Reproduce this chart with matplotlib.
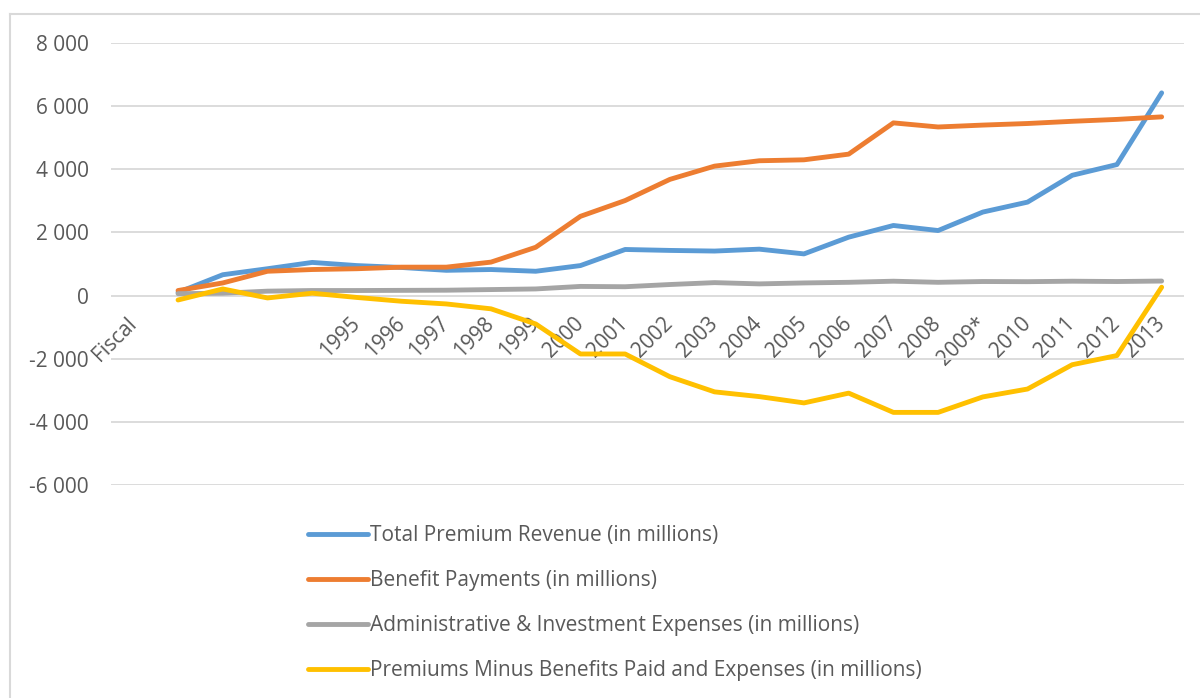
import numpy as np
import matplotlib
matplotlib.use("Agg")
import matplotlib.pyplot as plt
from matplotlib.ticker import FuncFormatter
from matplotlib.lines import Line2D

plt.rcParams['font.family'] = ['Open Sans', 'DejaVu Sans']

# categories (first one is the header cell, next four have no label)
categories = ['Fiscal', '', '', '', '', '1995', '1996', '1997', '1998', '1999', '2000',
              '2001', '2002', '2003', '2004', '2005', '2006', '2007', '2008', '2009*',
              '2010', '2011', '2012', '2013']

nan = np.nan
premium_revenue = [nan, 100, 660, 850, 1050, 950, 890, 800, 825, 770, 950, 1460, 1430,
                   1410, 1470, 1320, 1850, 2220, 2060, 2645, 2960, 3810, 4150, 6420]
benefit_payments = [nan, 160, 400, 770, 825, 850, 900, 900, 1060, 1530, 2510, 3010, 3680,
                    4100, 4270, 4300, 4480, 5470, 5340, 5400, 5450, 5520, 5580, 5660]
admin_expenses = [nan, 60, 75, 140, 160, 160, 165, 170, 190, 210, 290, 280, 350,
                  410, 370, 400, 420, 455, 420, 445, 440, 455, 445, 460]
premiums_minus = [nan, -140, 210, -75, 75, -60, -180, -265, -420, -900, -1850, -1850, -2570,
                  -3050, -3200, -3400, -3090, -3700, -3700, -3210, -2960, -2190, -1900, 265]

series = [
    ('Total Premium Revenue (in millions)', premium_revenue, '#5B9BD5'),
    ('Benefit Payments (in millions)', benefit_payments, '#ED7D31'),
    ('Administrative & Investment Expenses (in millions)', admin_expenses, '#A5A5A5'),
    ('Premiums Minus Benefits Paid and Expenses (in millions)', premiums_minus, '#FFC000'),
]

fig = plt.figure(figsize=(12, 6.98), dpi=100)
ax = fig.add_axes([111/1200, 1 - 485/698, (1184 - 111)/1200, (485 - 43)/698])

x = np.arange(len(categories))
for name, vals, col in series:
    ax.plot(x, vals, color=col, linewidth=3.5, label=name, solid_capstyle='round',
            solid_joinstyle='round')

ax.set_xlim(-0.5, len(categories) - 0.5)
ax.set_ylim(-6000, 8000)
ax.set_yticks(range(-6000, 8001, 2000))
ax.yaxis.set_major_formatter(FuncFormatter(lambda v, p: f"{int(v):,}".replace(',', ' ')))
ax.grid(axis='y', color='#d9d9d9', linewidth=1.3)
ax.set_axisbelow(True)

for s in ['top', 'right', 'left']:
    ax.spines[s].set_visible(False)
ax.spines['bottom'].set_position(('data', 0))
ax.spines['bottom'].set_visible(False)

ax.set_xticks(x)
ax.set_xticklabels(categories, rotation=45, ha='right', va='center', rotation_mode='anchor')
ax.tick_params(axis='x', length=0, pad=18, labelsize=15, labelcolor='#595959')
ax.tick_params(axis='y', length=0, pad=16, labelsize=15, labelcolor='#595959')

leg = fig.legend(loc='upper left', bbox_to_anchor=(308/1200, 1 - 525/698), frameon=False,
                 fontsize=15, handlelength=2.9, handletextpad=0.1, labelspacing=1.15,
                 borderpad=0, borderaxespad=0)
for t in leg.get_texts():
    t.set_color('#595959')
for h in leg.legend_handles:
    h.set_linewidth(3.5)

# chart border (only top and left edges are visible)
fig.add_artist(Line2D([10/1200, 10/1200], [0, 1 - 14/698], color='#d9d9d9', linewidth=1.5))
fig.add_artist(Line2D([10/1200, 1], [1 - 14/698, 1 - 14/698], color='#d9d9d9', linewidth=1.5))

fig.savefig('out.png', dpi=100)
